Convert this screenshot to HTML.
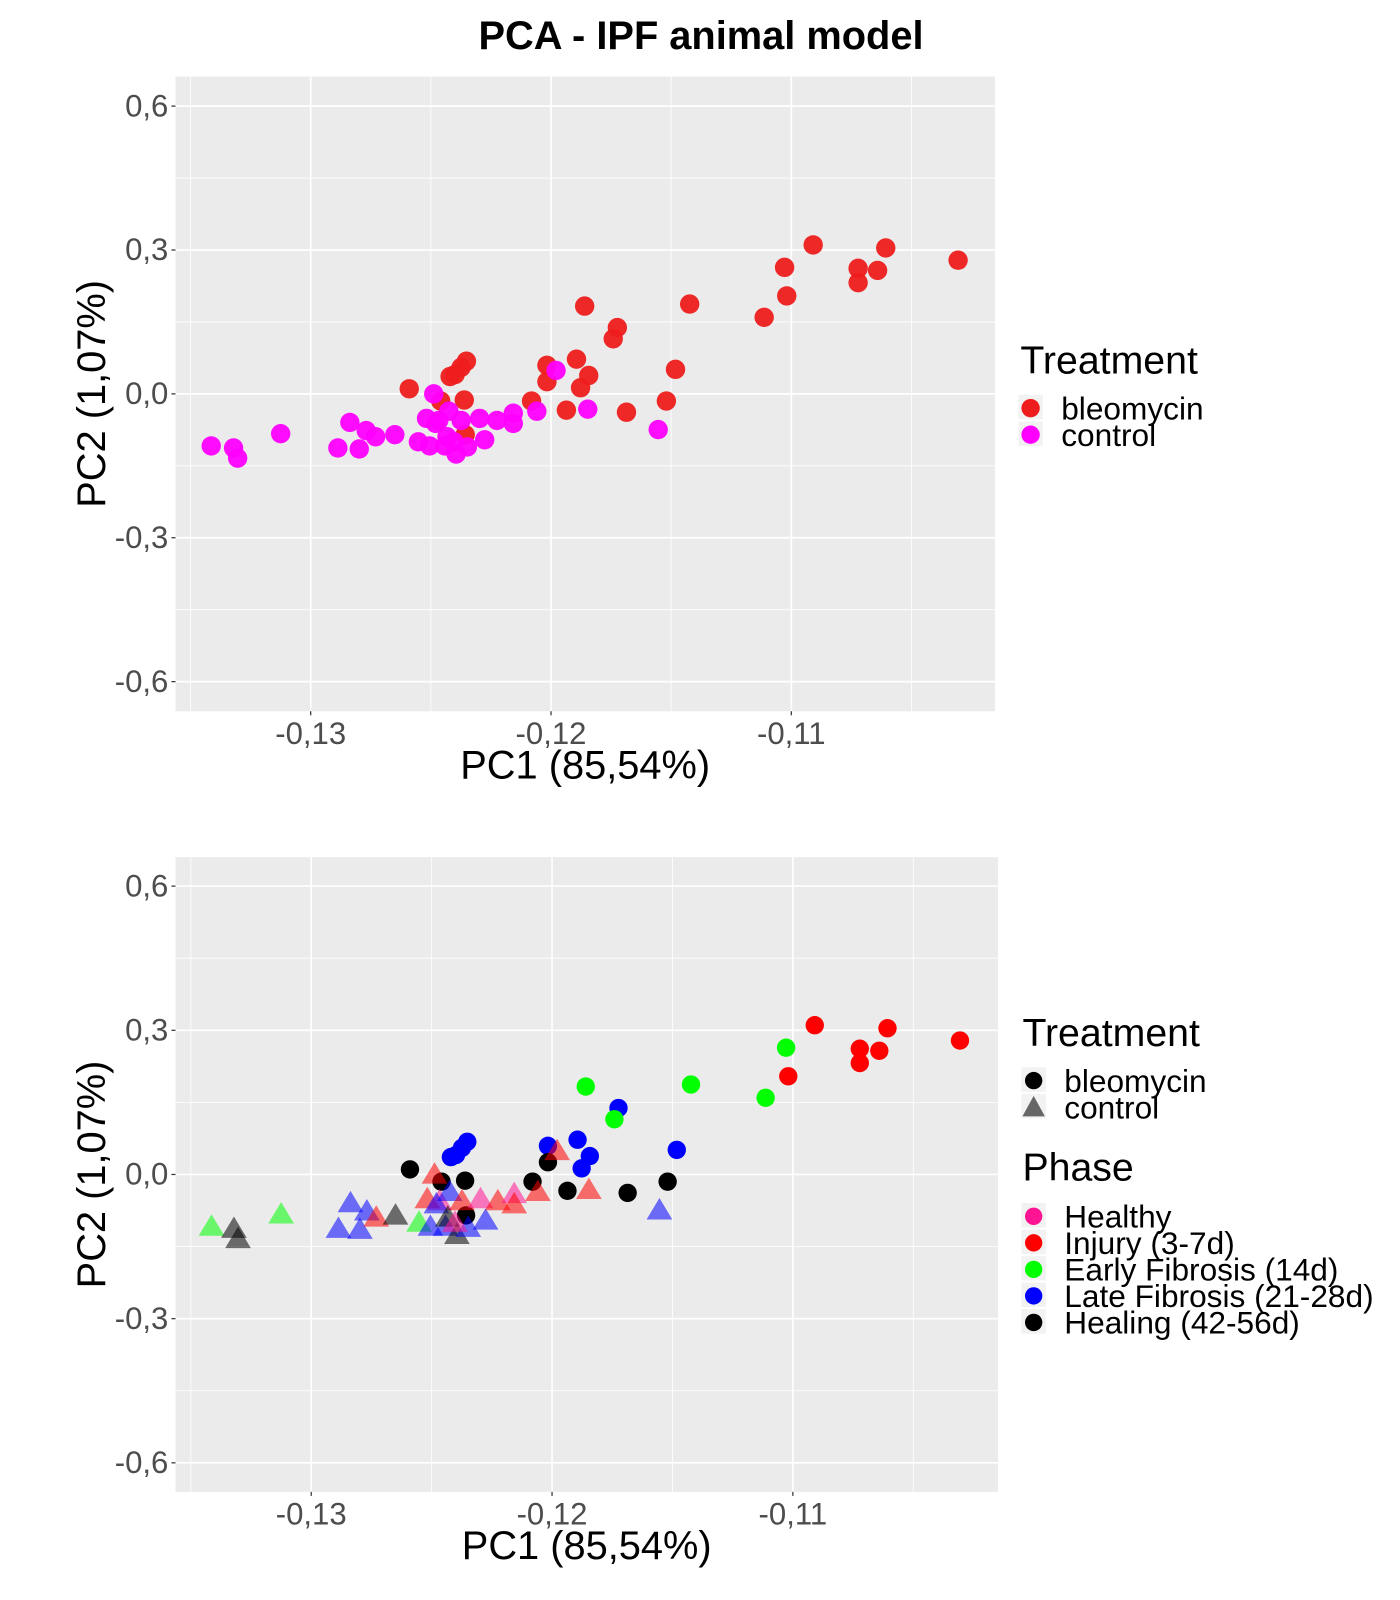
<!DOCTYPE html>
<html><head><meta charset="utf-8"><style>
html,body{margin:0;padding:0;background:#fff;}
svg{display:block;font-family:"Liberation Sans",Arial,sans-serif;}
</style></head><body>
<svg id="chart" width="1400" height="1600" viewBox="0 0 1400 1600" xmlns="http://www.w3.org/2000/svg">
<g transform="scale(1.0204)">
<text x="687" y="48" text-anchor="middle" font-size="39" font-weight="bold">PCA - IPF animal model</text>
<g id="p1"></g><g id="p2"></g>
</g>
</svg>
<script>
// sample data (pixel positions converted to PC values)
const pc1Px = [939,868,860,841,841,797,771,769,749,676,573,605,601,662,536,565,577,569,457,452,446,441,401,432,455,456,536,521,555,614,653,
 207,229,233,275,331,343,352,359,368,387,410,418,425,421,430,436,440,447,452,458,470,475,487,503,503,526,545,576,645,427,438,445];
const pc2Px = [255,243,265,263,277,240,290,262,311,298,300,321,332,362,358,352,368,380,354,360,367,369,381,393,392,426,374,393,402,404,393,
 437,439,449,425,439,414,440,422,428,426,433,410,386,437,412,437,403,445,412,438,410,431,412,405,415,403,363,401,421,415,428,433];
const treatment = [].concat(Array(31).fill('bleomycin'), Array(32).fill('control'));
const phase = ['Injury','Injury','Injury','Injury','Injury','Injury','Injury','Early','Early','Early','Early','Late','Early','Late','Late','Late','Late','Late','Late','Late','Late','Late','Healing','Healing','Healing','Healing','Healing','Healing','Healing','Healing','Healing',
 'Early','Healing','Healing','Early','Late','Late','Late','Late','Injury','Healing','Early','Injury','Injury','Late','Healthy','Late','Late','Healing','Injury','Late','Healthy','Late','Injury','Healthy','Injury','Injury','Injury','Injury','Late','Late','Healing','Healthy'];
const pc1 = pc1Px.map(p => +(-0.12 + (p-540)/23550).toFixed(5));
const pc2 = pc2Px.map(p => +((386-p)/470).toFixed(4));
const xTicks = [-0.13,-0.12,-0.11];
const xTickLabels = ['-0,13','-0,12','-0,11'];
const yTicks = [0.6,0.3,0,-0.3,-0.6];
const yTickLabels = ['0,6','0,3','0,0','-0,3','-0,6'];
const phaseNames = ['Healthy','Injury','Early','Late','Healing'];
const phaseLabels = ['Healthy','Injury (3-7d)','Early Fibrosis (14d)','Late Fibrosis (21-28d)','Healing (42-56d)'];
const phaseColors = {Healthy:'#FF1493',Injury:'#FF0000',Early:'#00FF00',Late:'#0000FF',Healing:'#000000'};

const NS='http://www.w3.org/2000/svg';
function mk(parent,tag,attrs,text){const e=document.createElementNS(NS,tag);for(const k in attrs)e.setAttribute(k,attrs[k]);if(text!==undefined)e.textContent=text;parent.appendChild(e);return e;}

function panel(g,top,px0,pxPer,y0,yPer,idx){
  const L=172,R=idx===1?975:978,T=top,B=top+622;
  const X=v=>px0+(v+0.12)*pxPer, Y=v=>y0-v*yPer;
  const bg=mk(g,'rect',{x:L,y:T,width:R-L,height:B-T,fill:'#EBEBEB'});
  
  
  [-0.135,-0.125,-0.115,-0.105].forEach(v=>mk(g,'line',{x1:X(v),x2:X(v),y1:T,y2:B,stroke:'#fff','stroke-width':0.8}));
  [0.45,0.15,-0.15,-0.45].forEach(v=>mk(g,'line',{x1:L,x2:R,y1:Y(v),y2:Y(v),stroke:'#fff','stroke-width':0.8}));
  xTicks.forEach((v,i)=>{mk(g,'line',{x1:X(v),x2:X(v),y1:T,y2:B,stroke:'#fff','stroke-width':1.6});
    mk(g,'line',{x1:X(v),x2:X(v),y1:B,y2:B+4,stroke:'#333','stroke-width':1.2});
    const t=mk(g,'text',{x:X(v),y:B+32,'text-anchor':'middle','font-size':30.5,fill:'#4D4D4D'},xTickLabels[i]);
    
    });
  yTicks.forEach((v,i)=>{mk(g,'line',{x1:L,x2:R,y1:Y(v),y2:Y(v),stroke:'#fff','stroke-width':1.6});
    mk(g,'line',{x1:L-4,x2:L,y1:Y(v),y2:Y(v),stroke:'#333','stroke-width':1.2});
    const t=mk(g,'text',{x:L-7,y:Y(v)+10,'text-anchor':'end','font-size':30.5,fill:'#4D4D4D'},yTickLabels[i]);
    
    });
  const xt=mk(g,'text',{x:(L+R)/2,y:B+66,'text-anchor':'middle','font-size':39},'PC1 (85,54%)');
  
  
  const yt=mk(g,'text',{x:0,y:0,'text-anchor':'middle','font-size':39,transform:`translate(103,${(T+B)/2}) rotate(-90)`},'PC2 (1,07%)');
  
  
  for(let i=0;i<pc1.length;i++){
    const cx=X(pc1[i]),cy=Y(pc2[i]);let el;
    if(idx===1){
      el=mk(g,'circle',{cx,cy,r:9.5,fill:treatment[i]==='bleomycin'?'#EE1C1C':'#FF00FF',opacity:0.95});
    } else if(treatment[i]==='bleomycin'){
      el=mk(g,'circle',{cx,cy,r:9,fill:phaseColors[phase[i]]});
    } else {
      const s=12;
      el=mk(g,'polygon',{points:`${cx},${cy-s} ${cx-s*1.05},${cy+s*0.75} ${cx+s*1.05},${cy+s*0.75}`,fill:phase[i]==='Healing'?'#000':phaseColors[phase[i]],opacity:0.55});
    }
    
    
  }
}
const g1=document.getElementById('p1'), g2=document.getElementById('p2');
panel(g1,75,540,23550,386,470,1);
panel(g2,840,541,23600,1151,471,2);

// legends
function legText(g,x,y,s,size,name){const t=mk(g,'text',{x,y,'font-size':size},s);return t;}
legText(g1,1000,366,'Treatment',38.5,'legend-title');
[['bleomycin','#EE1C1C'],['control','#FF00FF']].forEach((d,i)=>{
  const y=400+i*26;
  mk(g1,'rect',{x:998,y:y-13,width:24,height:24,fill:'#F2F2F2'});
  const c=mk(g1,'circle',{cx:1010,cy:y,r:9,fill:d[1]});
  
  
  legText(g1,1040,y+11,d[0],31,'legend-entry');
});
legText(g2,1002,1025,'Treatment',38.5,'legend-title-treatment');
[0,1].forEach(i=>{
  const y=1059+i*26;
  mk(g2,'rect',{x:1001,y:y-13,width:24,height:24,fill:'#F2F2F2'});
  let c;
  if(i===0)c=mk(g2,'circle',{cx:1013,cy:y,r:8.5,fill:'#000'});
  else c=mk(g2,'polygon',{points:`1013,${y-11} 1002,${y+9} 1024,${y+9}`,fill:'#666'});
  
  
  legText(g2,1043,y+11,i===0?'bleomycin':'control',31,'legend-entry');
});
legText(g2,1002,1157,'Phase',38.5,'legend-title-phase');
phaseNames.forEach((p,i)=>{
  const y=1192+i*26;
  mk(g2,'rect',{x:1001,y:y-13,width:24,height:24,fill:'#F2F2F2'});
  const c=mk(g2,'circle',{cx:1013,cy:y,r:8.5,fill:phaseColors[p]});
  
  
  legText(g2,1043,y+11,phaseLabels[i],31,'legend-entry');
});
</script>
</body></html>
